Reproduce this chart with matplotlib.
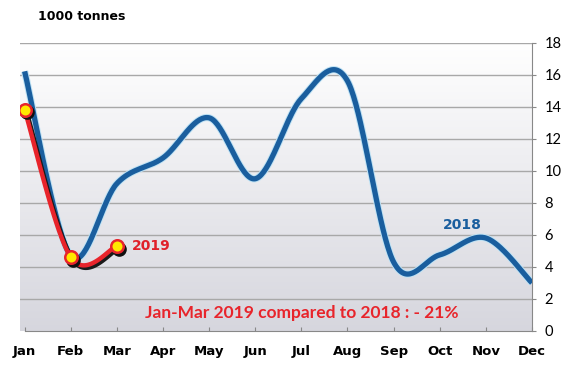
import numpy as np
import matplotlib
matplotlib.use("Agg")
import matplotlib.pyplot as plt
import matplotlib.transforms as mtransforms

months = ["Jan", "Feb", "Mar", "Apr", "May", "Jun", "Jul", "Aug", "Sep", "Oct", "Nov", "Dec"]
values_2018 = [16.2, 4.7, 9.2, 10.8, 13.3, 9.5, 14.5, 15.6, 4.3, 4.75, 5.8, 3.0]
values_2019 = [13.8, 4.6, 5.3]
yticks = [0, 2, 4, 6, 8, 10, 12, 14, 16, 18]


def smooth(y, n=40):
    """Catmull-Rom style smoothing (like spreadsheet smoothed lines)."""
    y = np.asarray(y, dtype=float)
    x = np.arange(len(y), dtype=float)
    px = np.concatenate([[x[0]], x, [x[-1]]])
    py = np.concatenate([[y[0]], y, [y[-1]]])
    xs, ys = [], []
    for i in range(1, len(px) - 2):
        p0, p1, p2, p3 = (np.array([px[j], py[j]]) for j in (i - 1, i, i + 1, i + 2))
        c1 = p1 + (p2 - p0) / 6.0
        c2 = p2 - (p3 - p1) / 6.0
        t = np.linspace(0, 1, n)[:, None]
        pts = ((1 - t) ** 3) * p1 + 3 * ((1 - t) ** 2) * t * c1 + 3 * (1 - t) * t ** 2 * c2 + t ** 3 * p2
        xs.append(pts[:, 0]); ys.append(pts[:, 1])
    return np.concatenate(xs), np.concatenate(ys)


fig = plt.figure(figsize=(5.62, 3.65), dpi=100)
fig.patch.set_facecolor("white")
W, H = 562, 365
left_px, right_px, top_px, bot_px = 20, 532, 42.5, 331
ax = fig.add_axes([left_px / W, 1 - bot_px / H, (right_px - left_px) / W, (bot_px - top_px) / H])

# gradient background: white at top, light grey-lavender at bottom
grad = np.linspace(0, 1, 256)[:, None]   # 0 at bottom row, 1 at top row
top_c = np.array([1.0, 1.0, 1.0])
bot_c = np.array([0.84, 0.84, 0.87])
img = bot_c[None, None, :] * (1 - grad[:, :, None]) + top_c[None, None, :] * grad[:, :, None]
ax.imshow(img, extent=[-0.1, 11, 0, 18], aspect="auto", zorder=0, origin="lower")
ax.set_xlim(-0.1, 11)
ax.set_ylim(0, 18)

for yv in yticks[1:]:
    ax.axhline(yv, color="#a8a8a8", lw=1.0, zorder=1)

# 2018 line with light halo
x18, y18 = smooth(values_2018)
ax.plot(x18, y18, color="#bfe3f5", lw=5.2, solid_capstyle="butt", zorder=2)
ax.plot(x18, y18, color="#1a5e9e", lw=3.8, solid_capstyle="butt", zorder=3)

# 2019 line with shadow
x19, y19 = smooth(values_2019)
shadow = mtransforms.offset_copy(ax.transData, fig=fig, x=2.0, y=-2.5, units="dots")
ax.plot(x19, y19, color="#1a1a1a", lw=3.2, transform=shadow, zorder=4)
ax.plot(x19, y19, color="#e8242b", lw=3.2, zorder=5)
xi = np.arange(len(values_2019))
ax.plot(xi, values_2019, "o", ms=9.5, color="#111111", transform=shadow, zorder=6)
ax.plot(xi, values_2019, "o", ms=9, mfc="#ffe800", mec="#e8242b", mew=1.8, zorder=7)

ax.text(2.33, 5.3, "2019", color="#e0202a", fontsize=10, fontweight="bold", ha="left", va="center",
        family="DejaVu Sans", zorder=8)
ax.text(9.49, 6.6, "2018", color="#1a5e9e", fontsize=10, fontweight="bold", ha="center", va="center",
        family="DejaVu Sans", zorder=8)
ax.text(6.0, 1.1, "Jan-Mar 2019 compared to 2018 : - 21%", color="#e8242b", fontsize=12.5,
        fontweight="bold", ha="center", va="center", family="Lato", zorder=8)
fig.text(38 / W, 1 - 17 / H, "1000 tonnes", fontsize=9, fontweight="bold", ha="left", va="center",
         family="DejaVu Sans")

# axes styling
ax.set_xticks(range(12))
ax.set_xticklabels(months, fontsize=9.5, fontweight="bold", family="DejaVu Sans")
ax.yaxis.tick_right()
ax.set_yticks(yticks)
ax.set_yticklabels([str(v) for v in yticks], fontsize=10.5, family="Lato")
for s in ("top", "left"):
    ax.spines[s].set_visible(False)
ax.spines["right"].set_color("#888888")
ax.spines["bottom"].set_color("#888888")
ax.spines["bottom"].set_bounds(0, 11)
ax.tick_params(axis="x", direction="in", length=3, color="#888888", pad=10)
ax.tick_params(axis="y", direction="out", length=3, color="#888888", pad=6)

fig.savefig("out.png", dpi=100)
